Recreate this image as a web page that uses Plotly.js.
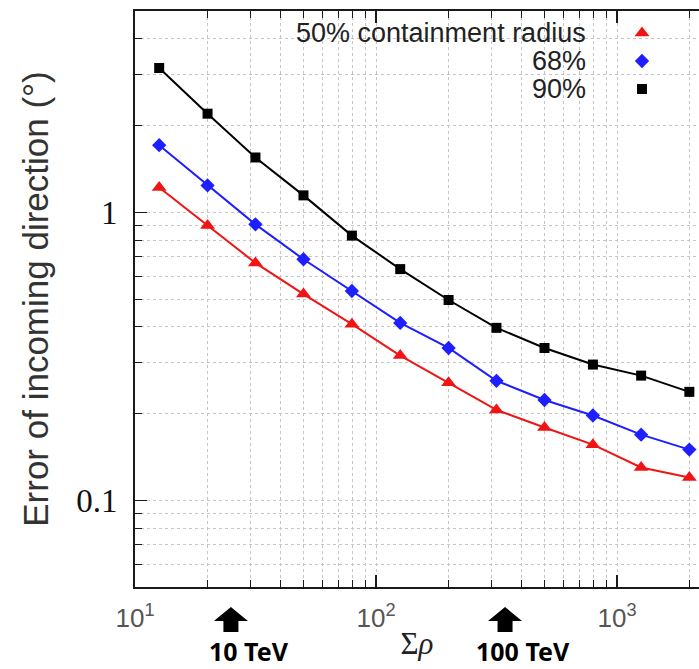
<!DOCTYPE html>
<html>
<head>
<meta charset="utf-8">
<script src="https://cdn.plot.ly/plotly-3.0.1.min.js"></script>
<style>
  html, body { margin: 0; padding: 0; background: #fff; }
  #chart { width: 699px; height: 669px; }
</style>
</head>
<body>
<div id="chart"></div>
<script>
// ---- data ----
var sigmaRho = [12.6, 20, 31.6, 50, 79.4, 126, 200, 316, 500, 794, 1259, 1995];
var radius50 = [1.22, 0.90, 0.667, 0.520, 0.409, 0.318, 0.256, 0.206, 0.179, 0.156, 0.130, 0.120];
var radius68 = [1.71, 1.24, 0.908, 0.687, 0.533, 0.413, 0.338, 0.260, 0.223, 0.197, 0.169, 0.150];
var radius90 = [3.17, 2.20, 1.55, 1.145, 0.83, 0.635, 0.496, 0.397, 0.338, 0.296, 0.271, 0.238];

var seriesNames = ['50% containment radius', '68%', '90%'];

var xTickVals = [10, 100, 1000];
var xTickText = ['10<sup>1</sup>', '10<sup>2</sup>', '10<sup>3</sup>'];
var xMinorVals = [20, 30, 40, 50, 60, 70, 80, 90, 200, 300, 400, 500, 600, 700, 800, 900, 2000];
var yTickVals = [0.1, 1];
var yTickText = ['0.1', '1'];
var yMinorVals = [0.06, 0.07, 0.08, 0.09, 0.2, 0.3, 0.4, 0.5, 0.6, 0.7, 0.8, 0.9, 2, 3, 4];

var energyLabels = ['10 TeV', '100 TeV'];
var energySigmaRho = [25, 343];

(function () {
  // ---- layout geometry ----
  var W = 699, H = 669;
  var M = {l: 135, r: 0, t: 11, b: 82};
  var plotW = W - M.l - M.r, plotH = H - M.t - M.b;
  var xRange = [1, 3.34];
  var yRange = [Math.log10(0.05), Math.log10(5)];

  function pxX(px) { return (px - M.l) / plotW; }
  function pxY(py) { return (H - M.b - py) / plotH; }
  function dataToPxX(v) { return M.l + (Math.log10(v) - xRange[0]) / (xRange[1] - xRange[0]) * plotW; }

  var red = '#f01414', blue = '#1e1eff', black = '#000000';
  var gridColor = '#c4c4c4';
  var axisColor = '#1a1a1a';

  var traces = [
    {x: sigmaRho, y: radius50, name: seriesNames[0], type: 'scatter', mode: 'lines+markers',
     line: {color: red, width: 2}, marker: {symbol: 'triangle-up', size: 13, color: red}},
    {x: sigmaRho, y: radius68, name: seriesNames[1], type: 'scatter', mode: 'lines+markers',
     line: {color: blue, width: 2}, marker: {symbol: 'diamond', size: 11, color: blue}},
    {x: sigmaRho, y: radius90, name: seriesNames[2], type: 'scatter', mode: 'lines+markers',
     line: {color: black, width: 2}, marker: {symbol: 'square', size: 10, color: black}}
  ];

  // legend keys (on an overlaid unit axis pair)
  var legendRowsPx = [33, 61, 89];
  var legendKeyX = pxX(642);
  traces.push({
    x: [legendKeyX, legendKeyX, legendKeyX],
    y: legendRowsPx.map(pxY),
    xaxis: 'x2', yaxis: 'y2', type: 'scatter', mode: 'markers', showlegend: false, hoverinfo: 'skip',
    marker: {symbol: ['triangle-up', 'diamond', 'square'], size: [13, 11, 10], color: [red, blue, black],
             opacity: 1, line: {width: 0}}
  });

  var annotations = [];
  for (var i = 0; i < seriesNames.length; i++) {
    annotations.push({
      xref: 'paper', yref: 'paper', x: pxX(588), y: pxY(legendRowsPx[i]),
      xanchor: 'right', yanchor: 'middle', showarrow: false, text: seriesNames[i],
      font: {family: 'Liberation Sans, Arial, sans-serif', size: 27, color: '#222'}
    });
  }

  var shapes = [
    // legend background box hiding the grid
    {type: 'rect', xref: 'paper', yref: 'paper', x0: pxX(225), x1: 1, y0: pxY(103), y1: 0.998,
     fillcolor: '#ffffff', line: {width: 0}, layer: 'between'}
  ];

  for (var k = 0; k < energyLabels.length; k++) {
    var cx = dataToPxX(energySigmaRho[k]);
    var yTop = 607, yHead = 621, yBot = 632, halfHead = 17, halfStem = 7.5;
    var pts = [[cx, yTop], [cx + halfHead, yHead], [cx + halfStem, yHead], [cx + halfStem, yBot],
               [cx - halfStem, yBot], [cx - halfStem, yHead], [cx - halfHead, yHead]];
    var path = 'M' + pts.map(function (p) { return pxX(p[0]).toFixed(5) + ',' + pxY(p[1]).toFixed(5); }).join(' L') + ' Z';
    shapes.push({type: 'path', xref: 'paper', yref: 'paper', path: path, fillcolor: '#000', line: {width: 0}, layer: 'above'});
    annotations.push({
      xref: 'paper', yref: 'paper', x: pxX(cx + 18), y: pxY(651), xanchor: 'center', yanchor: 'middle',
      showarrow: false, text: '<b>' + energyLabels[k] + '</b>',
      font: {family: 'Noto Sans, Liberation Sans, sans-serif', size: 25, color: '#000'}
    });
  }

  var layout = {
    width: W, height: H,
    margin: {l: M.l, r: M.r, t: M.t, b: M.b, pad: 0},
    paper_bgcolor: '#fff', plot_bgcolor: '#fff',
    showlegend: false, hovermode: false,
    font: {family: 'Liberation Sans, Arial, sans-serif', color: '#222'},
    xaxis: {
      type: 'log', range: xRange, autorange: false,
      showline: true, linecolor: axisColor, linewidth: 2, mirror: 'ticks',
      ticks: 'inside', ticklen: 12, tickwidth: 1.5, tickcolor: axisColor,
      tickmode: 'array', tickvals: xTickVals, ticktext: xTickText,
      tickfont: {family: 'Liberation Sans, Arial, sans-serif', size: 26, color: '#555'},
      ticklabelstandoff: 7,
      showgrid: true, gridcolor: gridColor, griddash: 'dot', gridwidth: 1,
      minor: {tickmode: 'array', tickvals: xMinorVals, ticks: 'inside', ticklen: 7, tickwidth: 1, tickcolor: axisColor,
              showgrid: true, gridcolor: gridColor, griddash: 'dot', gridwidth: 1},
      zeroline: false,
      title: {text: 'Σ<i>ρ</i>', font: {family: 'Liberation Serif, Times New Roman, serif', size: 31, color: '#222'}, standoff: 0}
    },
    yaxis: {
      type: 'log', range: yRange, autorange: false,
      showline: true, linecolor: axisColor, linewidth: 2, mirror: false,
      ticks: 'inside', ticklen: 12, tickwidth: 1.5, tickcolor: axisColor,
      tickmode: 'array', tickvals: yTickVals, ticktext: yTickText,
      tickfont: {family: 'Liberation Serif, Times New Roman, serif', size: 33, color: '#111'},
      ticklabelstandoff: 9,
      showgrid: true, gridcolor: gridColor, griddash: 'dot', gridwidth: 1,
      minor: {tickmode: 'array', tickvals: yMinorVals, ticks: 'inside', ticklen: 7, tickwidth: 1, tickcolor: axisColor,
              showgrid: true, gridcolor: gridColor, griddash: 'dot', gridwidth: 1},
      zeroline: false,
      title: {text: 'Error of incoming direction (°)', font: {family: 'Liberation Sans, Arial, sans-serif', size: 35, color: '#333'}, standoff: 17}
    },
    xaxis2: {overlaying: 'x', range: [0, 1], visible: false, fixedrange: true},
    yaxis2: {overlaying: 'y', range: [0, 1], visible: false, fixedrange: true},
    shapes: shapes,
    annotations: annotations
  };

  Plotly.newPlot('chart', traces, layout, {displayModeBar: false, staticPlot: true});
})();
</script>
</body>
</html>
